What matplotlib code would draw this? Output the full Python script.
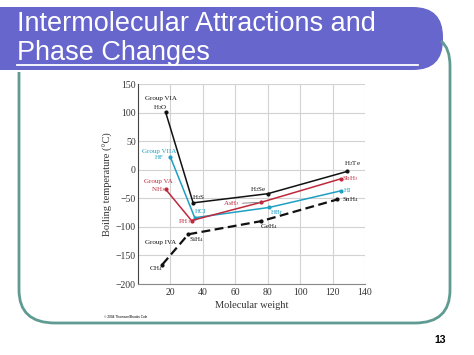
import matplotlib
matplotlib.use("Agg")
import matplotlib.pyplot as plt
from matplotlib.patches import FancyBboxPatch, PathPatch
from matplotlib.path import Path

# data
via_x = [17, 34, 80, 129]
via_y = [101, -58, -42, -3]
via_lbl = ["H$_2$O", "H$_2$S", "H$_2$Se", "H$_2$Te"]

viia_x = [20, 35, 81, 125]
viia_y = [22, -84, -66, -37]
viia_lbl = ["HF", "HCl", "HBr", "HI"]

va_x = [17, 33, 76, 125]
va_y = [-34, -89, -57, -16]
va_lbl = ["NH$_3$", "PH$_3$", "AsH$_3$", "SbH$_3$"]

iva_x = [15, 31, 76, 123]
iva_y = [-166, -113, -90, -52]
iva_lbl = ["CH$_4$", "SiH$_4$", "GeH$_4$", "SnH$_4$"]

x_ticks = [20, 40, 60, 80, 100, 120, 140]
y_ticks = [150, 100, 50, 0, -50, -100, -150, -200]

plt.rcParams["mathtext.fontset"] = "stix"

BLACK = "#111111"
CYAN = "#1f9fc2"
RED = "#c0283c"
TEAL = "#5f9b93"
PURPLE = "#6666cc"

fig = plt.figure(figsize=(4.74, 3.55), dpi=100)
fig.patch.set_facecolor("white")

# slide decoration (pixel coords)
deco = fig.add_axes([0, 0, 1, 1])
deco.set_xlim(0, 474)
deco.set_ylim(355, 0)
deco.axis("off")
deco.add_patch(FancyBboxPatch((-60, 7), 503, 63,
                              boxstyle="round,pad=0,rounding_size=30",
                              fc=PURPLE, ec="none"))
deco.plot([17, 418], [65, 65], color="white", lw=1.3)
frame = Path([(19, 72), (19, 290), (19, 323), (55, 323), (415, 323),
              (450, 323), (450, 290), (450, 66), (450, 48), (441, 41)],
             [Path.MOVETO, Path.LINETO, Path.CURVE3, Path.CURVE3,
              Path.LINETO, Path.CURVE3, Path.CURVE3, Path.LINETO,
              Path.CURVE3, Path.CURVE3])
deco.add_patch(PathPatch(frame, fc="none", ec=TEAL, lw=2))
deco.text(17, 31, "Intermolecular Attractions and", color="white",
          fontsize=19.5, family="Liberation Sans", va="baseline")
deco.text(17, 60, "Phase Changes", color="white",
          fontsize=19.5, family="Liberation Sans", va="baseline")
deco.text(440, 340, "13", fontsize=7.5, fontweight="bold",
          family="Liberation Sans", ha="center", va="center")
deco.text(104, 317, "\u00a9 2004 Thomson/Brooks Cole", fontsize=2.3,
          family="Liberation Sans", va="center")

# chart
ax = fig.add_axes([138 / 474, 1 - 284 / 355, 227 / 474, 200 / 355])
ax.set_xlim(0, 140)
ax.set_ylim(-200, 150)
ax.set_xticks(x_ticks)
ax.set_yticks(y_ticks)
ax.set_yticklabels([str(v).replace("-", "\u2212") for v in y_ticks])
ax.grid(True, color="#d2d2d2", lw=0.8)
ax.set_axisbelow(True)
for s in ["top", "right"]:
    ax.spines[s].set_visible(False)
ax.spines["left"].set_color("#444444")
ax.spines["bottom"].set_color("#888888")
ax.tick_params(length=0, labelsize=7, labelcolor="#333333")
ax.tick_params(axis="y", pad=1.5)
ax.tick_params(axis="x", pad=3)
for lab in ax.get_xticklabels() + ax.get_yticklabels():
    lab.set_family("Liberation Serif")
ax.set_xlabel("Molecular weight", family="Liberation Serif", fontsize=7.5,
              color="#333333", labelpad=3)
ax.set_ylabel("Boiling temperature (\u00b0C)", family="Liberation Serif",
              fontsize=7.5, color="#333333", labelpad=2)

ax.plot(via_x, via_y, color=BLACK, lw=1.1, marker="o", ms=2, zorder=3)
ax.plot(viia_x, viia_y, color=CYAN, lw=1.1, marker="o", ms=2, zorder=3)
ax.plot(va_x, va_y, color=RED, lw=1.1, marker="o", ms=2, zorder=3)
ax.plot(iva_x, iva_y, color=BLACK, lw=1.6, ls=(0, (4, 2)), marker="o",
        ms=2, zorder=3)

fs = 5
tkw = dict(textcoords="offset pixels", fontsize=fs, family="Liberation Serif",
           ha="center", va="center", multialignment="center")

def label(x, y, txt, dx, dy, color=BLACK, **kw):
    ax.annotate(txt, (x, y), xytext=(dx, dy), color=color, **tkw, **kw)

# group VIA
label(via_x[0], via_y[0], "Group VIA\n" + via_lbl[0], -5, 8)
label(via_x[1], via_y[1], via_lbl[1], 6, 5)
label(via_x[2], via_y[2], via_lbl[2], -9, 4)
label(via_x[3], via_y[3], via_lbl[3], 5, 8)
# group VIIA
label(viia_x[0], viia_y[0], "Group VIIA\n" + viia_lbl[0], -11, 3, CYAN)
label(viia_x[1], viia_y[1], viia_lbl[1], 6, 6, CYAN)
label(viia_x[2], viia_y[2], viia_lbl[2], 8, -5, CYAN)
label(viia_x[3], viia_y[3], viia_lbl[3], 7, 0, CYAN)
# group VA
label(va_x[0], va_y[0], "Group VA\n" + va_lbl[0], -7, 3, RED)
label(va_x[1], va_y[1], va_lbl[1], -7, -1, RED)
label(va_x[2], va_y[2], va_lbl[2], -30, -1.5, RED,
      arrowprops=dict(arrowstyle="-", color="#777777", lw=0.6,
                      shrinkA=0, shrinkB=1))
label(va_x[3], va_y[3], va_lbl[3], 10, 0, RED)
# group IVA
label(iva_x[1], iva_y[1], "Group IVA", -28, -8)
label(iva_x[0], iva_y[0], iva_lbl[0], -6, -4)
label(iva_x[1], iva_y[1], iva_lbl[1], 8, -5.5)
label(iva_x[2], iva_y[2], iva_lbl[2], 8, -5.5)
label(iva_x[3], iva_y[3], iva_lbl[3], 13, 0)

fig.savefig("out.png", dpi=100)
